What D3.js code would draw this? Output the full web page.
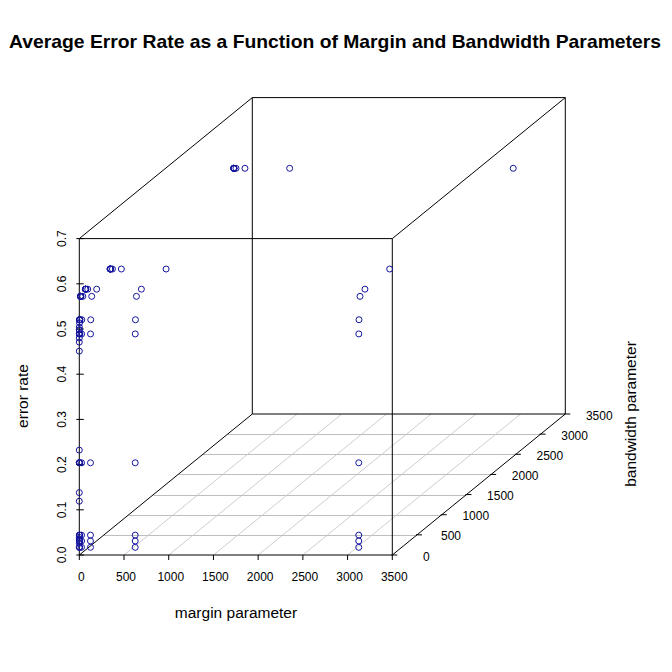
<!DOCTYPE html>
<html>
<head>
<meta charset="utf-8">
<title>Average Error Rate as a Function of Margin and Bandwidth Parameters</title>
<script src="https://d3js.org/d3.v7.min.js"></script>
<style>
    body { margin: 0; background: #ffffff; }
    svg { display: block; font-family: "Liberation Sans", Arial, sans-serif; }
</style>
</head>
<body>
<div id="chart"></div>
<script>
// Grid search values (margin = cost, bandwidth = kernel width)
const margins = [0.0016, 0.008, 0.04, 0.2, 1, 5, 25, 125, 625, 3125];
const bandwidths = [0.0016, 0.008, 0.04, 0.2, 1, 5, 25, 125, 625, 3125];

// average error rate, one row per bandwidth, one column per margin
const errorRate = [
    [0.451, 0.119, 0.026, 0.017, 0.017, 0.017, 0.017, 0.017, 0.017, 0.017],
    [0.471, 0.138, 0.035, 0.031, 0.031, 0.031, 0.031, 0.031, 0.031, 0.031],
    [0.480, 0.232, 0.039, 0.044, 0.044, 0.044, 0.044, 0.044, 0.044, 0.044],
    [0.489, 0.498, 0.204, 0.204, 0.204, 0.204, 0.204, 0.204, 0.204, 0.204],
    [0.498, 0.504, 0.489, 0.489, 0.489, 0.489, 0.489, 0.489, 0.489, 0.489],
    [0.520, 0.513, 0.520, 0.520, 0.520, 0.520, 0.520, 0.520, 0.520, 0.520],
    [0.570, 0.570, 0.570, 0.570, 0.570, 0.570, 0.570, 0.570, 0.570, 0.570],
    [0.577, 0.577, 0.577, 0.577, 0.577, 0.577, 0.577, 0.577, 0.577, 0.577],
    [0.577, 0.577, 0.577, 0.577, 0.577, 0.577, 0.577, 0.577, 0.577, 0.577],
    [0.577, 0.577, 0.577, 0.577, 0.577, 0.577, 0.577, 0.577, 0.577, 0.577]
];

const xTicks = [0, 500, 1000, 1500, 2000, 2500, 3000, 3500];
const yTicks = [0, 500, 1000, 1500, 2000, 2500, 3000, 3500];
const zTicks = [0, 0.1, 0.2, 0.3, 0.4, 0.5, 0.6, 0.7];

const W = 672, H = 672;

// front face scales, depth axis is an oblique offset
const x = d3.scaleLinear().domain([0, 3500]).range([79.3, 392.3]);
const z = d3.scaleLinear().domain([0, 0.7]).range([555, 238.6]);
const depth = d3.scaleLinear().domain([0, 3500]).range([0, 1]);
const DX = 173, DY = -141;

const px = (m, b) => x(m) + depth(b) * DX;
const py = (e, b) => z(e) + depth(b) * DY;

const svg = d3.select('#chart')
    .append('svg')
    .attr('width', W)
    .attr('height', H);

const gridLayer = svg.append('g');
const boxLayer = svg.append('g');
const axisLayer = svg.append('g');
const pointLayer = svg.append('g');

// floor grid
gridLayer.selectAll('line.gy')
    .data(yTicks.slice(1, -1))
    .enter()
    .append('line')
    .attr('x1', b => px(0, b))
    .attr('x2', b => px(3500, b))
    .attr('y1', b => Math.round(py(0, b)) + 0.5)
    .attr('y2', b => Math.round(py(0, b)) + 0.5)
    .attr('stroke', '#bebebe')
    .attr('stroke-width', 1);

gridLayer.selectAll('line.gx')
    .data(xTicks.slice(1, -1))
    .enter()
    .append('line')
    .attr('x1', m => px(m, 0))
    .attr('y1', m => py(0, 0))
    .attr('x2', m => px(m, 3500))
    .attr('y2', m => py(0, 3500))
    .attr('stroke', '#c8c8c8')
    .attr('stroke-width', 0.9);

// box: 8 corners, 12 edges
const corner = (m, b, e) => [px(m, b), py(e, b)];
const edges = [];
[0, 3500].forEach(b => {
    edges.push([corner(0, b, 0), corner(3500, b, 0)]);
    edges.push([corner(0, b, 0.7), corner(3500, b, 0.7)]);
    edges.push([corner(0, b, 0), corner(0, b, 0.7)]);
    edges.push([corner(3500, b, 0), corner(3500, b, 0.7)]);
});
[[0, 0], [3500, 0], [0, 0.7], [3500, 0.7]].forEach(([m, e]) => {
    edges.push([corner(m, 0, e), corner(m, 3500, e)]);
});

boxLayer.selectAll('line')
    .data(edges)
    .enter()
    .append('line')
    .attr('x1', d => d[0][0])
    .attr('y1', d => d[0][1])
    .attr('x2', d => d[1][0])
    .attr('y2', d => d[1][1])
    .attr('stroke', '#000')
    .attr('stroke-width', 1);

// x axis ticks and labels
axisLayer.selectAll('line.xt')
    .data(xTicks)
    .enter()
    .append('line')
    .attr('x1', d => x(d))
    .attr('x2', d => x(d))
    .attr('y1', z(0))
    .attr('y2', z(0) + 5)
    .attr('stroke', '#000');

axisLayer.selectAll('text.xt')
    .data(xTicks)
    .enter()
    .append('text')
    .attr('x', d => x(d) + 2)
    .attr('y', 581)
    .attr('text-anchor', 'middle')
    .style('font-size', '12px')
    .text(d => d);

// z axis ticks and labels
axisLayer.selectAll('line.zt')
    .data(zTicks)
    .enter()
    .append('line')
    .attr('x1', x(0) - 3)
    .attr('x2', x(0) + 4.5)
    .attr('y1', d => z(d))
    .attr('y2', d => z(d))
    .attr('stroke', '#000');

axisLayer.selectAll('text.zt')
    .data(zTicks)
    .enter()
    .append('text')
    .attr('transform', d => `translate(66,${z(d)}) rotate(-90)`)
    .attr('text-anchor', 'middle')
    .style('font-size', '12px')
    .text(d => d.toFixed(1));

// bandwidth axis ticks and labels
axisLayer.selectAll('line.yt')
    .data(yTicks)
    .enter()
    .append('line')
    .attr('x1', d => px(3500, d) - 1)
    .attr('x2', d => px(3500, d) + 5)
    .attr('y1', d => py(0, d))
    .attr('y2', d => py(0, d))
    .attr('stroke', '#000');

axisLayer.selectAll('text.yt')
    .data(yTicks)
    .enter()
    .append('text')
    .attr('x', d => px(3500, d) + 34)
    .attr('y', d => py(0, d) + 5.5)
    .attr('text-anchor', 'middle')
    .style('font-size', '12px')
    .text(d => d);

// titles
svg.append('text')
    .attr('x', 335)
    .attr('y', 48)
    .attr('text-anchor', 'middle')
    .attr('textLength', 652)
    .attr('lengthAdjust', 'spacingAndGlyphs')
    .style('font-size', '18.5px')
    .style('font-weight', 'bold')
    .text('Average Error Rate as a Function of Margin and Bandwidth Parameters');

svg.append('text')
    .attr('x', 236)
    .attr('y', 618)
    .attr('text-anchor', 'middle')
    .style('font-size', '15.5px')
    .text('margin parameter');

svg.append('text')
    .attr('transform', 'translate(28,396) rotate(-90)')
    .attr('text-anchor', 'middle')
    .style('font-size', '15.5px')
    .text('error rate');

svg.append('text')
    .attr('transform', 'translate(636,414) rotate(-90)')
    .attr('text-anchor', 'middle')
    .style('font-size', '15.5px')
    .text('bandwidth parameter');

// points
const points = [];
bandwidths.forEach((b, i) => {
    margins.forEach((m, j) => {
        points.push({ m, b, e: errorRate[i][j] });
    });
});

pointLayer.selectAll('circle')
    .data(points)
    .enter()
    .append('circle')
    .attr('cx', d => px(d.m, d.b))
    .attr('cy', d => py(d.e, d.b))
    .attr('r', 3)
    .attr('fill', 'none')
    .attr('stroke', '#1515a0')
    .attr('stroke-width', 1);
</script>
</body>
</html>
